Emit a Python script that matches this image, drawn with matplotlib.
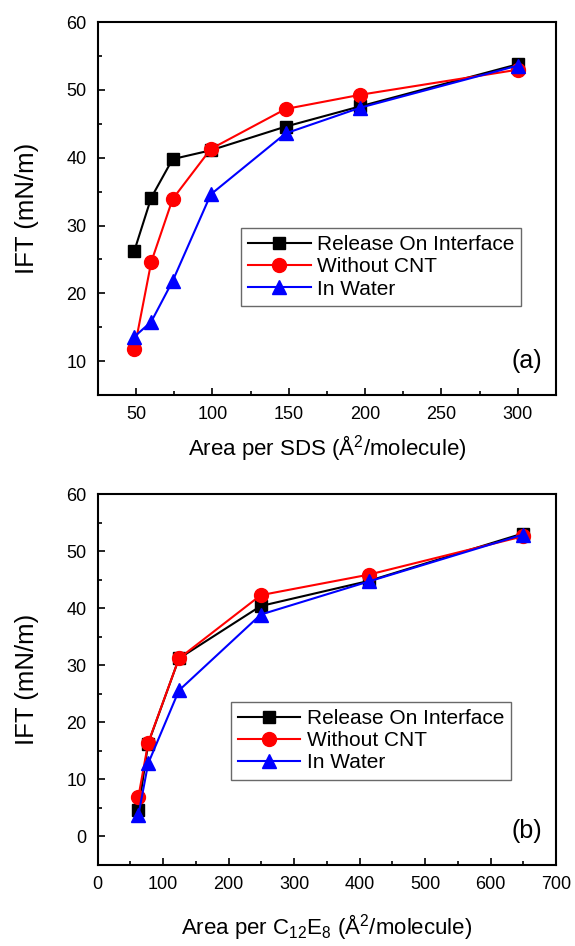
import numpy as np
import matplotlib.pyplot as plt

plt.rcParams['font.family'] = ['Liberation Sans', 'DejaVu Sans']
plt.rcParams['mathtext.fontset'] = 'custom'
plt.rcParams['mathtext.rm'] = 'Liberation Sans'

# panel (a) - SDS
sds_area = [49, 60, 74, 99, 148, 197, 300]
sds_release = [26.3, 34.1, 39.8, 41.1, 44.6, 47.6, 53.8]
sds_nocnt = [11.8, 24.6, 33.9, 41.3, 47.2, 49.3, 53.0]
sds_water = [13.6, 15.8, 21.8, 34.6, 43.6, 47.4, 53.6]

# panel (b) - C12E8
ce_area = [62, 77, 124, 249, 414, 649]
ce_release = [4.6, 16.3, 31.2, 40.4, 44.8, 53.1]
ce_nocnt = [6.9, 16.4, 31.2, 42.3, 45.9, 52.6]
ce_water = [3.7, 12.8, 25.6, 38.9, 44.7, 52.9]

labels = ['Release On Interface', 'Without CNT', 'In Water']

fig = plt.figure(figsize=(5.75, 9.46), dpi=100)
ax1 = fig.add_axes([0.170, 0.5825, 0.797, 0.394])
ax2 = fig.add_axes([0.170, 0.0856, 0.797, 0.392])


def draw(ax, x, ys):
    ax.plot(x, ys[0], color='black', marker='s', markersize=9, lw=1.5, label=labels[0])
    ax.plot(x, ys[1], color='red', marker='o', markersize=10, lw=1.5, label=labels[1])
    ax.plot(x, ys[2], color='blue', marker='^', markersize=10, lw=1.5, label=labels[2])
    ax.tick_params(which='both', direction='in', labelsize=13, width=1.2, pad=8)
    ax.tick_params(which='major', length=5)
    ax.tick_params(which='minor', length=3)
    for s in ax.spines.values():
        s.set_linewidth(1.5)
    ax.set_ylabel('IFT (mN/m)', fontsize=18.5, labelpad=20)


def add_legend(ax, x0, y0):
    ax.legend(loc='upper left', bbox_to_anchor=(x0, y0), borderaxespad=0, fontsize=15,
              frameon=True, fancybox=False, edgecolor='#444444', handlelength=3,
              borderpad=0.35, labelspacing=0.15, handletextpad=0.3)


draw(ax1, sds_area, [sds_release, sds_nocnt, sds_water])
ax1.set_xlim(25, 325)
ax1.set_ylim(5, 60)
ax1.set_xticks(np.arange(50, 301, 50))
ax1.set_xticks(np.arange(75, 301, 50), minor=True)
ax1.set_yticks(np.arange(10, 61, 10))
ax1.set_yticks(np.arange(15, 60, 10), minor=True)
ax1.set_xlabel('Area per SDS (Å$^2$/molecule)', fontsize=16, labelpad=7)
ax1.text(0.97, 0.06, '(a)', transform=ax1.transAxes, fontsize=18, ha='right', va='bottom')
add_legend(ax1, 0.312, 0.448)

draw(ax2, ce_area, [ce_release, ce_nocnt, ce_water])
ax2.set_xlim(0, 700)
ax2.set_ylim(-5, 60)
ax2.set_xticks(np.arange(0, 701, 100))
ax2.set_xticks(np.arange(50, 700, 100), minor=True)
ax2.set_yticks(np.arange(0, 61, 10))
ax2.set_yticks(np.arange(-5, 60, 10), minor=True)
ax2.set_xlabel('Area per C$_{12}$E$_8$ (Å$^2$/molecule)', fontsize=16, labelpad=14)
ax2.text(0.97, 0.06, '(b)', transform=ax2.transAxes, fontsize=18, ha='right', va='bottom')
add_legend(ax2, 0.290, 0.440)

fig.savefig('out.png', dpi=100)
